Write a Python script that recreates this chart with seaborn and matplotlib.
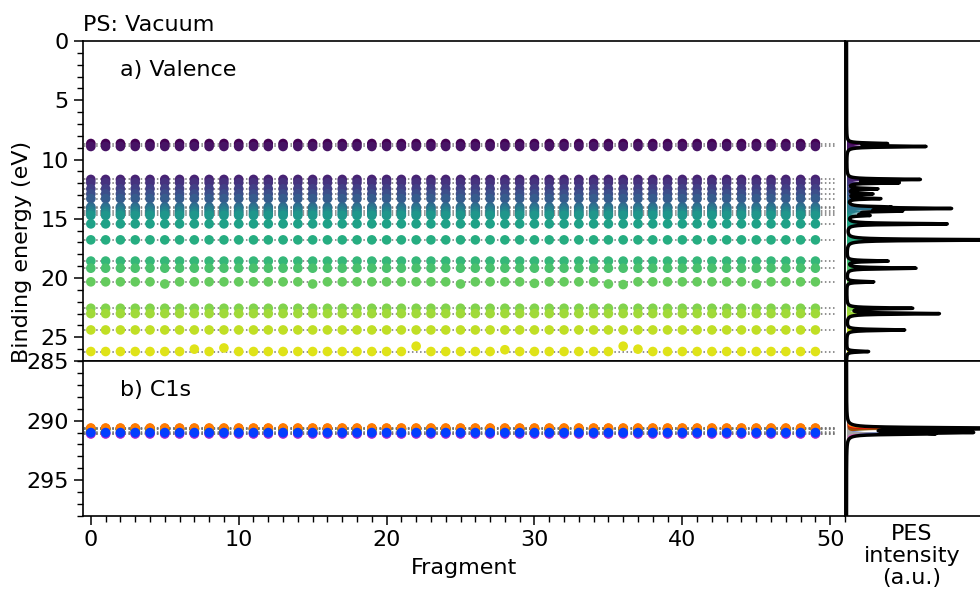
import numpy as np
import pandas as pd
import matplotlib
matplotlib.use("Agg")
import matplotlib.pyplot as plt
from matplotlib.ticker import MultipleLocator
import seaborn as sns

# ---------------- data ----------------
fragments = list(range(50))

# valence orbital binding energies (eV), same ordering as colour index
valence_levels = [8.65, 8.9, 11.68, 11.96, 12.47, 12.9, 13.3, 14.0, 14.13, 14.35,
                  14.55, 14.72, 15.43, 16.78, 18.57, 19.17, 20.32, 22.55, 23.0,
                  24.38, 26.2]
# PES peak intensity of each valence level (a.u.)
valence_pes_height = [38, 78, 72, 50, 30, 25, 33, 30, 98, 49,
                      15, 20, 100, 160, 41, 69, 27, 65, 92,
                      58, 22]
# individual fragments whose level deviates from the common value
shift_level = [20, 20, 20, 20, 20, 20, 16, 16, 16, 16, 16, 16, 16]
shift_fragment = [7, 9, 22, 28, 36, 37, 5, 15, 25, 30, 35, 36, 45]
shift_energy = [26.0, 25.9, 25.75, 26.05, 25.75, 26.0, 20.5, 20.5, 20.5, 20.45,
                20.5, 20.55, 20.5]

# C1s core levels (eV)
c1s_levels = [291.0, 290.62, 290.7, 290.66, 291.1, 290.72, 291.12, 290.98]
c1s_pes_height = [70, 95, 40, 45, 40, 40, 30, 45]

# ---------------- style ----------------
sns.set_theme(style="ticks")
plt.rcParams["font.family"] = ["DejaVu Sans"]
plt.rcParams["font.size"] = 16
for k in ["text.color", "axes.labelcolor", "xtick.color", "ytick.color",
          "axes.edgecolor"]:
    plt.rcParams[k] = "black"
FS = 16

fig = plt.figure(figsize=(9.8, 5.99), dpi=100)
W, H = 980.0, 599.0
x0, x1 = 82.7, 845.0
ax_v = fig.add_axes([x0 / W, 1 - 361 / H, (x1 - x0) / W, 320 / H])
ax_c = fig.add_axes([x0 / W, 1 - 516 / H, (x1 - x0) / W, 155 / H], sharex=ax_v)
ax_pv = fig.add_axes([x1 / W, 1 - 361 / H, 135 / W, 320 / H], sharey=ax_v)
ax_pc = fig.add_axes([x1 / W, 1 - 516 / H, 135 / W, 155 / H], sharey=ax_c)

nv = len(valence_levels)
val_colors = [plt.cm.viridis(i / nv) for i in range(nv)]
c1s_colors = sns.color_palette("bright", len(c1s_levels))

# ---------------- valence scatter ----------------
rows = []
for li, e in enumerate(valence_levels):
    for f in fragments:
        rows.append((f, e, li))
dv = pd.DataFrame(rows, columns=["fragment", "energy", "level"])
for li, f, e in zip(shift_level, shift_fragment, shift_energy):
    dv.loc[(dv.level == li) & (dv.fragment == f), "energy"] = e

for e in valence_levels:
    ax_v.hlines(e, -0.45, 50.4, colors="0.45", linestyles=":", lw=1.1, zorder=1)
sns.scatterplot(data=dv, x="fragment", y="energy", hue="level",
                palette=dict(enumerate(val_colors)), s=48, linewidth=0,
                legend=False, ax=ax_v, zorder=3)

# ---------------- C1s scatter ----------------
rows = []
for li in reversed(range(len(c1s_levels))):
    for f in fragments:
        rows.append((f, c1s_levels[li], li))
dc = pd.DataFrame(rows, columns=["fragment", "energy", "level"])
for e in c1s_levels:
    ax_c.hlines(e, -0.45, 50.4, colors="0.45", linestyles=":", lw=1.1, zorder=1)
sns.scatterplot(data=dc, x="fragment", y="energy", hue="level",
                palette=dict(enumerate(c1s_colors)), s=48, linewidth=0,
                legend=False, ax=ax_c, zorder=3)

# ---------------- PES spectra ----------------
gamma = 0.05


def spectrum(ax, grid, levels, heights, colors):
    total = np.zeros_like(grid)
    for e, h, c in zip(levels, heights, colors):
        comp = h * gamma ** 2 / ((grid - e) ** 2 + gamma ** 2)
        ax.fill_betweenx(grid, 0, comp, color=c, lw=0, zorder=2)
        total += comp
    ax.plot(total, grid, color="black", lw=2.5, zorder=3)


grid_v = np.linspace(0, 27, 20001)
spectrum(ax_pv, grid_v, valence_levels, valence_pes_height, val_colors)
grid_c = np.linspace(285, 298, 20001)
spectrum(ax_pc, grid_c, c1s_levels, c1s_pes_height, c1s_colors)

# ---------------- axes formatting ----------------
ax_v.set_ylim(27, 0)
ax_c.set_ylim(298, 285)
ax_c.set_xlim(-0.55, 51)
ax_v.set_yticks([0, 5, 10, 15, 20, 25])
ax_c.set_yticks([285, 290, 295])
ax_c.set_xticks([0, 10, 20, 30, 40, 50])
for ax in (ax_v, ax_c):
    ax.yaxis.set_minor_locator(MultipleLocator(1))
    ax.tick_params(axis="both", which="major", direction="out", length=6.5,
                   width=1.1, labelsize=FS, color="black", labelcolor="black")
    ax.tick_params(axis="both", which="minor", direction="out", length=4,
                   width=1.0, color="black")
    ax.set_ylabel("")
    for s in ax.spines.values():
        s.set_linewidth(1.2)
        s.set_color("black")
ax_c.xaxis.set_minor_locator(MultipleLocator(1))
ax_v.tick_params(axis="x", which="both", bottom=False, labelbottom=False)
ax_v.set_xlabel("")
ax_c.set_xlabel("Fragment", fontsize=FS, color="black")
ax_c.xaxis.set_label_coords(0.5, -0.27)

for ax in (ax_pv, ax_pc):
    ax.set_xlim(-1.5, 133.5)
    ax.tick_params(axis="both", which="both", left=False, bottom=False,
                   labelleft=False, labelbottom=False)
    ax.spines["right"].set_visible(False)
    for s in ax.spines.values():
        s.set_linewidth(1.2)
        s.set_color("black")
    ax.set_xlabel("")
    ax.set_ylabel("")

ax_v.set_title("PS: Vacuum", loc="left", pad=7, fontsize=FS, color="black")
ax_v.text(0.049, 0.909, "a) Valence", transform=ax_v.transAxes, va="center",
          fontsize=FS, color="black")
ax_c.text(0.049, 0.813, "b) C1s", transform=ax_c.transAxes, va="center",
          fontsize=FS, color="black")
fig.text(22 / W, 1 - 252 / H, "Binding energy (eV)", rotation=90,
         ha="center", va="center", fontsize=FS, color="black")
fig.text(912 / W, 1 - 556 / H, "PES\nintensity\n(a.u.)", ha="center",
         va="center", fontsize=FS, linespacing=1.1, color="black")

fig.savefig("out.png", dpi=100)
